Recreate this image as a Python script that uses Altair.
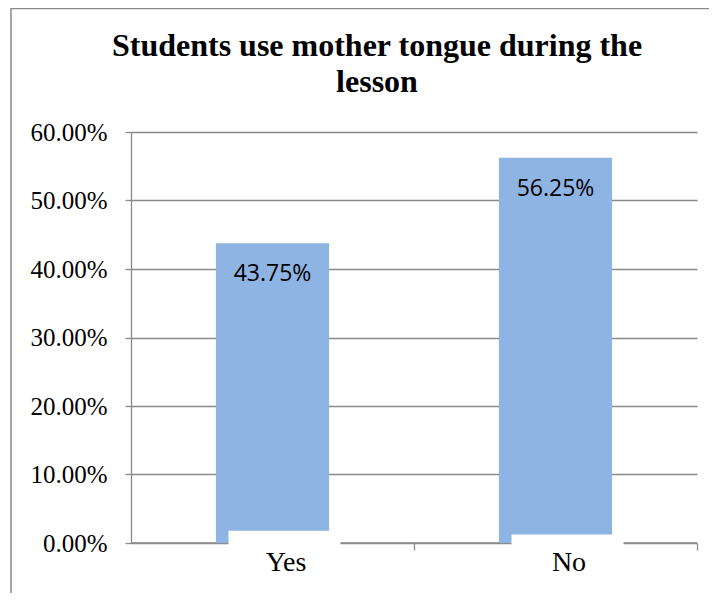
import altair as alt
import pandas as pd

# ---- data ----
categories = ["Yes", "No"]
values = [0.4375, 0.5625]
value_labels = ["43.75%", "56.25%"]
# white label boxes that overlap the bottom of each bar in the reference
box_tops = [0.018, 0.0125]
y_ticks = [0.0, 0.1, 0.2, 0.3, 0.4, 0.5, 0.6]

title_lines = ["Students use mother tongue during the", "lesson"]

df = pd.DataFrame({
    "category": categories,
    "value": values,
    "label": value_labels,
    "box_top": box_tops,
})

GRAY = "#8a8a8a"
BAR = "#8EB4E3"
SERIF = "Liberation Serif"

x_scale = alt.Scale(domain=categories, paddingInner=0.6, paddingOuter=0.3)
x_axis = alt.Axis(
    title=None, labelAngle=0, domain=False, grid=False,
    labelFont=SERIF, labelFontSize=28, labelColor="black",
    labelBaseline="alphabetic", labelPadding=20, labelOffset=-128.5,
    tickSize=7, tickColor=GRAY, tickWidth=1.3, tickOffset=141.5,
    zindex=1,
)
x_enc = alt.X("category:N", sort=categories, scale=x_scale, axis=x_axis)

y_scale = alt.Scale(domain=[0, 0.6], nice=False, zero=True)
y_axis = alt.Axis(
    title=None, values=y_ticks, format=".2%",
    labelFont=SERIF, labelFontSize=25, labelColor="black",
    labelPadding=18, tickSize=6, tickColor=GRAY, tickWidth=1.3,
    domainColor=GRAY, domainWidth=1.3,
    grid=True, gridColor=GRAY, gridWidth=1.3,
)

base = alt.Chart(df)

frame = alt.Chart(pd.DataFrame({"f": [0]})).mark_rect(
    filled=False, stroke=GRAY, strokeWidth=1.5
).encode(
    x=alt.value(-120), x2=alt.value(1000),
    y=alt.value(-123.5), y2=alt.value(1000),
)

baseline_rule = alt.Chart(pd.DataFrame({"z": [0.0]})).mark_rule(
    color=GRAY, strokeWidth=1.3
).encode(y=alt.Y("z:Q", scale=y_scale, axis=y_axis))

bars = base.mark_bar(color=BAR).encode(
    x=x_enc,
    y=alt.Y("value:Q", scale=y_scale, axis=y_axis),
)

boxes = base.mark_bar(color="white", size=112, xOffset=12).encode(
    x=x_enc,
    y=alt.Y("box_top:Q", scale=y_scale, axis=y_axis),
    y2=alt.datum(-0.011),
)

texts = base.mark_text(
    font="Open Sans", fontSize=23, color="black",
    baseline="alphabetic", dy=38,
).encode(
    x=x_enc,
    y=alt.Y("value:Q", scale=y_scale, axis=y_axis),
    text="label:N",
)

chart = alt.layer(frame, baseline_rule, bars, boxes, texts).properties(
    width=566,
    height=411,
    autosize=alt.AutoSizeParams(type="none"),
    padding={"left": 123, "top": 124, "right": 12, "bottom": 50},
    view=alt.ViewBackground(stroke="transparent", strokeWidth=0, strokeOpacity=0),
    title=alt.Title(
        text=title_lines, font=SERIF, fontSize=32, fontWeight="bold",
        color="black", anchor="middle", dx=-37, offset=-116,
        baseline="alphabetic", lineHeight=36,
    ),
).configure(background="white")

chart.save("out.html", embed_options={"renderer": "svg", "actions": False})
